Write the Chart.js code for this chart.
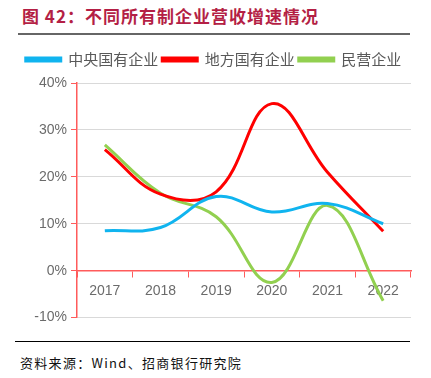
<!DOCTYPE html>
<html><head><meta charset="utf-8">
<script src="https://cdn.jsdelivr.net/npm/chart.js@4/dist/chart.umd.min.js"></script>
<style>
html,body{margin:0;padding:0;background:#fff;width:431px;height:378px;overflow:hidden;font-family:"Noto Sans CJK SC",sans-serif;}
#title{position:absolute;left:22px;top:3px;font-size:17px;font-weight:bold;color:#b41f45;letter-spacing:1px;white-space:nowrap;}
#rule{position:absolute;left:18px;top:33px;width:392px;height:2px;background:#666;}
#wrap{position:absolute;left:0;top:48px;width:431px;height:282px;}
#rule2{position:absolute;left:15px;top:341px;width:395px;height:1px;background:#000;}
#src{position:absolute;left:20px;top:353px;font-size:13px;color:#111;letter-spacing:1.3px;white-space:nowrap;font-family:"Noto Sans CJK SC","DejaVu Sans Mono",monospace;}
</style></head><body>
<div id="title">图 42：不同所有制企业营收增速情况</div>
<div id="rule"></div>
<div id="wrap"><canvas id="c"></canvas></div>
<div id="rule2"></div>
<div id="src">资料来源：Wind、招商银行研究院</div>
<script>
const categories = ['2017','2018','2019','2020','2021','2022'];
const seriesNames = ['中央国有企业','地方国有企业','民营企业'];
const central = [8.5, 9.2, 15.8, 12.5, 14.3, 10.0];
const local = [25.8, 16.3, 16.8, 35.6, 21.0, 8.4];
const privateEnt = [26.8, 16.5, 11.5, -2.5, 13.9, -6.4];
const yTicks = [-10, 0, 10, 20, 30, 40];

const colors = ['#10b4ef', '#ff0000', '#92d050'];
const values = [central, local, privateEnt];

const legendPad = {
  id: 'legendPad',
  beforeInit(chart) {
    const orig = chart.legend.fit;
    chart.legend.fit = function () { orig.call(this); this.height += 6; };
  }
};

new Chart(document.getElementById('c'), {
  type: 'line',
  plugins: [legendPad],
  data: {
    labels: categories,
    datasets: seriesNames.map((n, i) => ({
      label: n,
      data: values[i],
      borderColor: colors[i],
      backgroundColor: colors[i],
      borderWidth: 3,
      pointRadius: 0,
      tension: 0.4,
      fill: false
    }))
  },
  options: {
    responsive: true,
    maintainAspectRatio: false,
    animation: false,
    layout: { padding: { left: 16, right: 20, top: 0, bottom: 0 } },
    plugins: {
      tooltip: { enabled: false },
      legend: {
        position: 'top',
        labels: {
          boxWidth: 35, boxHeight: 3, padding: 4,
          color: '#595959',
          font: { size: 15, family: '"Noto Sans CJK SC", sans-serif' }
        }
      }
    },
    scales: {
      x: {
        position: { y: 0 },
        offset: true,
        grid: { display: true, drawOnChartArea: false, drawTicks: true, tickLength: 6, color: '#ff5b5b', offset: true },
        border: { display: true, color: '#ff5b5b', width: 1.5 },
        ticks: { color: '#6b6b6b', font: { size: 14, family: 'Liberation Sans, Arial, sans-serif' }, padding: 6 }
      },
      y: {
        min: -10, max: 40,
        afterBuildTicks: s => { s.ticks = yTicks.map(v => ({ value: v })); },
        afterFit: s => { s.width = 61; },
        grid: { color: '#d9d9d9', tickColor: '#ff5b5b', tickLength: 6 },
        border: { display: true, color: '#ff5b5b', width: 1.5 },
        ticks: { color: '#6b6b6b', font: { size: 14, family: 'Liberation Sans, Arial, sans-serif' }, padding: 4, callback: v => v + '%' }
      }
    }
  }
});
</script>
</body></html>
